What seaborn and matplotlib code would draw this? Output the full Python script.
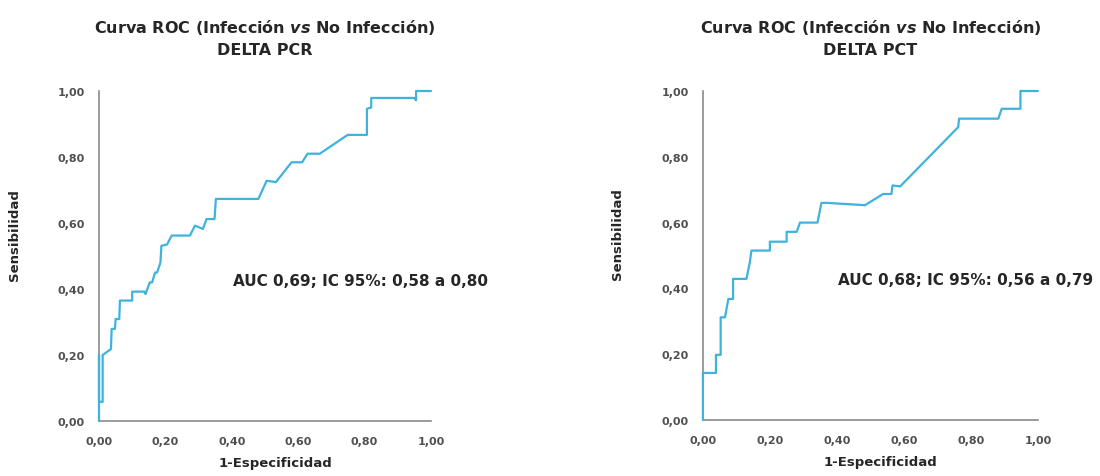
import matplotlib
matplotlib.use("Agg")
import matplotlib.pyplot as plt
import seaborn as sns
import pandas as pd

# ---- data ----
fpr_pcr = [0, 0, 0, 0.011, 0.011, 0.036, 0.038, 0.048, 0.05, 0.061, 0.063, 0.10, 0.10,
           0.137, 0.14, 0.153, 0.16, 0.169, 0.175, 0.185, 0.188, 0.205, 0.219, 0.274,
           0.289, 0.313, 0.324, 0.348, 0.352, 0.48, 0.505, 0.533, 0.58, 0.612, 0.628,
           0.665, 0.749, 0.807, 0.807, 0.82, 0.82, 0.949, 0.955, 0.955, 1.0]
tpr_pcr = [0, 0.2, 0.058, 0.058, 0.2, 0.218, 0.279, 0.279, 0.309, 0.309, 0.365, 0.365, 0.392,
           0.392, 0.385, 0.42, 0.42, 0.45, 0.45, 0.48, 0.531, 0.535, 0.562, 0.562,
           0.592, 0.582, 0.612, 0.612, 0.673, 0.673, 0.728, 0.724, 0.784, 0.784, 0.81,
           0.81, 0.867, 0.867, 0.946, 0.95, 0.979, 0.979, 0.972, 1.0, 1.0]

fpr_pct = [0, 0, 0.039, 0.039, 0.053, 0.053, 0.066, 0.076, 0.09, 0.09, 0.13, 0.14, 0.145,
           0.2, 0.2, 0.25, 0.25, 0.28, 0.29, 0.342, 0.354, 0.37, 0.484, 0.538, 0.563,
           0.566, 0.589, 0.762, 0.765, 0.882, 0.892, 0.948, 0.948, 1.0]
tpr_pct = [0, 0.143, 0.143, 0.198, 0.198, 0.312, 0.312, 0.368, 0.368, 0.429, 0.429, 0.479, 0.515,
           0.515, 0.542, 0.542, 0.572, 0.572, 0.60, 0.60, 0.66, 0.66, 0.653, 0.687, 0.687,
           0.713, 0.71, 0.89, 0.916, 0.916, 0.946, 0.946, 1.0, 1.0]

titles = ["DELTA PCR", "DELTA PCT"]
auc_texts = ["AUC 0,69; IC 95%: 0,58 a 0,80", "AUC 0,68; IC 95%: 0,56 a 0,79"]
ticks = [0, 0.2, 0.4, 0.6, 0.8, 1.0]
tick_labels = ["0,00", "0,20", "0,40", "0,60", "0,80", "1,00"]

sns.set_style("white")
plt.rcParams["font.family"] = ["DejaVu Sans"]
plt.rcParams["mathtext.fontset"] = "custom"
plt.rcParams["mathtext.rm"] = "DejaVu Sans:bold"
plt.rcParams["mathtext.it"] = "DejaVu Sans:italic:bold"

fig = plt.figure(figsize=(11, 4.77), dpi=100)
ax1 = fig.add_axes([0.09, 0.1153, 0.3018, 0.6918])
ax2 = fig.add_axes([0.639, 0.1174, 0.3045, 0.6897])

line_color = "#3FB2DE"
axis_color = "#8a8a8a"
text_color = "#262626"

curves = [(fpr_pcr, tpr_pcr), (fpr_pct, tpr_pct)]
for ax, (fx, ty), sub, auc in zip([ax1, ax2], curves, titles, auc_texts):
    df = pd.DataFrame({"x": fx, "y": ty})
    sns.lineplot(data=df, x="x", y="y", ax=ax, sort=False, estimator=None,
                 color=line_color, linewidth=1.6, clip_on=False, zorder=3)
    ax.set_xlim(0, 1)
    ax.set_ylim(0, 1)
    ax.set_xticks(ticks)
    ax.set_xticklabels(tick_labels)
    ax.set_yticks(ticks)
    ax.set_yticklabels(tick_labels)
    for s in ["top", "right"]:
        ax.spines[s].set_visible(False)
    for s in ["left", "bottom"]:
        ax.spines[s].set_color(axis_color)
        ax.spines[s].set_linewidth(1.2)
    ax.tick_params(axis="both", direction="in", length=3, width=1, color=axis_color,
                   labelsize=8, labelcolor="#505050")
    for lab in ax.get_xticklabels() + ax.get_yticklabels():
        lab.set_fontweight("bold")
    ax.tick_params(axis="y", pad=10)
    ax.tick_params(axis="x", pad=11)
    ax.set_xlabel("1-Especificidad", fontsize=9.5, fontweight="bold", color=text_color)
    ax.set_ylabel("Sensibilidad", fontsize=9.5, fontweight="bold", color=text_color)
    ax.xaxis.set_label_coords(0.53, -0.106)
    ax.yaxis.set_label_coords(-0.236, 0.567)
    ax.text(0.5, 1.197, r"Curva ROC (Infección $\it{vs}$ No Infección)", transform=ax.transAxes,
            ha="center", va="center", fontsize=11.5, fontweight="bold", color=text_color)
    ax.text(0.5, 1.127, sub, transform=ax.transAxes, ha="center", va="center",
            fontsize=11.5, fontweight="bold", color=text_color)
    ax.text(0.404, 0.427, auc, transform=ax.transAxes, ha="left", va="center",
            fontsize=11, fontweight="bold", color=text_color)

fig.savefig("out.png", dpi=100, facecolor="white")
